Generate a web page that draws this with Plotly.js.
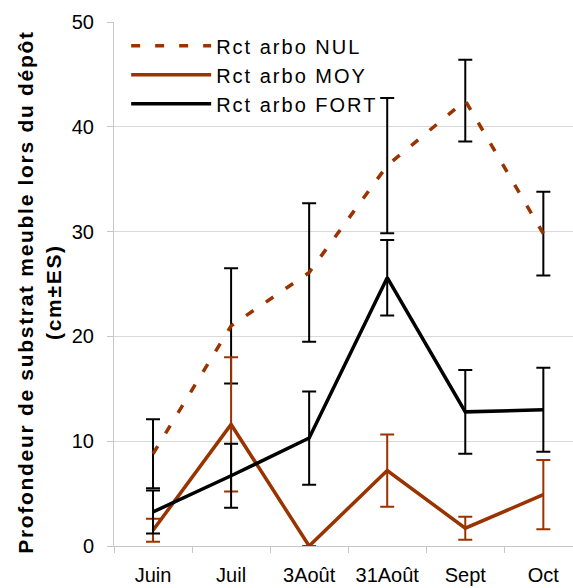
<!DOCTYPE html>
<html>
<head>
<meta charset="utf-8">
<script src="https://cdn.plot.ly/plotly-3.0.1.min.js"></script>
<style>
html, body { margin: 0; padding: 0; background: #fff; }
#chart { width: 573px; height: 588px; }
.legendtext { letter-spacing: 2px; }
.annotation-text { letter-spacing: 1.7px; }
</style>
</head>
<body>
<div id="chart"></div>
<script>
const categories = ['Juin', 'Juil', '3Août', '31Août', 'Sept', 'Oct'];
const seriesNames = ['Rct arbo NUL', 'Rct arbo MOY', 'Rct arbo FORT'];
const nulValues = [8.8, 21.0, 26.1, 36.3, 42.5, 29.8];
const nulErrors = [3.3, 5.5, 6.6, 6.45, 3.9, 4.0];
const moyValues = [1.5, 11.6, 0, 7.2, 1.7, 4.9];
const moyErrors = [1.1, 6.4, 0, 3.45, 1.1, 3.3];
const fortValues = [3.25, 6.7, 10.3, 25.6, 12.8, 13.0];
const fortErrors = [2.05, 3.05, 4.45, 3.6, 4.0, 4.0];
const yTicks = [0, 10, 20, 30, 40, 50];

const brown = '#993300';
const fontFam = 'Arial, "Liberation Sans", sans-serif';

function errBar(arr, color) {
  return { type: 'data', array: arr, visible: true, color: color, thickness: 2, width: 7 };
}

const traces = [
  { x: categories, y: nulValues, name: seriesNames[0], type: 'scatter', mode: 'lines',
    line: { color: brown, width: 3.5, dash: '9px,15px' }, error_y: errBar(nulErrors, '#000000') },
  { x: categories, y: moyValues, name: seriesNames[1], type: 'scatter', mode: 'lines',
    line: { color: brown, width: 3.5 }, error_y: errBar(moyErrors, brown) },
  { x: categories, y: fortValues, name: seriesNames[2], type: 'scatter', mode: 'lines',
    line: { color: '#000000', width: 3.5 }, error_y: errBar(fortErrors, '#000000') }
];

const layout = {
  width: 573, height: 588,
  margin: { l: 114, r: 0, t: 22, b: 42, pad: 0 },
  paper_bgcolor: '#ffffff', plot_bgcolor: '#ffffff',
  font: { family: fontFam, color: '#000000', size: 20 },
  showlegend: true,
  legend: {
    x: 0.0265, y: 0.9917, xanchor: 'left', yanchor: 'top',
    bgcolor: 'rgba(0,0,0,0)', borderwidth: 0,
    font: { family: fontFam, size: 20, color: '#000' },
    itemwidth: 80, tracegroupgap: 0
  },
  xaxis: {
    type: 'category', range: [-0.5, 5.38],
    showgrid: false, zeroline: false,
    showline: true, linecolor: '#c6c6c6', linewidth: 1,
    ticks: 'outside', tickson: 'boundaries', ticklen: 6, tickcolor: '#c6c6c6', tickwidth: 1,
    tickfont: { family: fontFam, size: 20, color: '#000' },
    ticklabelstandoff: 11,
    fixedrange: true
  },
  yaxis: {
    range: [0, 50], tickvals: yTicks, ticktext: yTicks.map(String),
    showgrid: true, gridcolor: '#d9d9d9', gridwidth: 1, zeroline: false,
    showline: true, linecolor: '#c6c6c6', linewidth: 1,
    ticks: 'outside', ticklen: 6, tickcolor: '#c6c6c6', tickwidth: 1,
    tickfont: { family: fontFam, size: 20, color: '#000' },
    ticklabelstandoff: 9,
    fixedrange: true
  },
  annotations: [{
    text: '<b>Profondeur de substrat meuble lors du dépôt<br>(cm±ES)</b>',
    xref: 'paper', yref: 'paper', x: -0.162, y: 0.4844,
    xanchor: 'center', yanchor: 'middle', textangle: -90, showarrow: false,
    font: { family: fontFam, size: 21, color: '#000' }
  }]
};

Plotly.newPlot('chart', traces, layout, { staticPlot: true, displayModeBar: false });
</script>
</body>
</html>
